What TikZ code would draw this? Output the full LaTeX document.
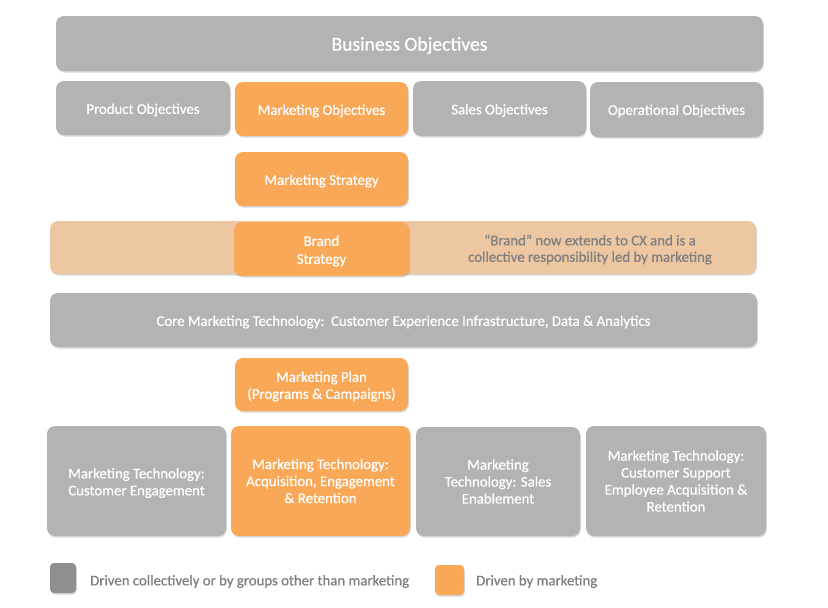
\documentclass[tikz,border=0pt]{standalone}
\usepackage{fontspec}
\setmainfont{Carlito}[FakeBold=0.6]
\usetikzlibrary{shadows}
\definecolor{boxgray}{HTML}{B3B3B3}
\definecolor{boxorange}{HTML}{F8A857}
\definecolor{bandpeach}{HTML}{EDC6A2}
\definecolor{legendgray}{HTML}{8F8F8F}
\definecolor{textgray}{HTML}{7F7F7F}
\begin{document}
\begin{tikzpicture}[x=1pt,y=-1pt,
  base/.style={rounded corners=8pt, inner sep=0pt,
     drop shadow={shadow xshift=0.8pt, shadow yshift=-1.5pt, opacity=0.25, fill=black!60}},
  graybox/.style={base, fill=boxgray},
  orangebox/.style={base, fill=boxorange},
  txt/.style={text=white, align=center, inner sep=0pt, font=\fontsize{14.8}{17}\selectfont},
  legendsq/.style={rounded corners=4pt, minimum width=26pt, minimum height=30pt, inner sep=0pt,
     drop shadow={shadow xshift=0.8pt, shadow yshift=-1.5pt, opacity=0.25, fill=black!60}},
  legendtxt/.style={anchor=west, text=textgray, font=\fontsize{14.8}{17}\selectfont, inner sep=0pt}
]
\useasboundingbox (0,0) rectangle (828,608);
\fill[white] (0,0) rectangle (828,608);

% top
\node[graybox, minimum width=707pt, minimum height=55pt] (bo) at (409.5,43.5) {};
\node[txt, font=\fontsize{19.6}{22}\selectfont] (bo-t) at ([yshift=-2pt]bo.center) {Business Objectives};

\node[graybox, minimum width=174pt, minimum height=54pt] (po) at (143,108) {};
\node[txt] (po-t) at ([yshift=-2pt]po.center) {Product Objectives};
\node[orangebox, minimum width=173pt, minimum height=54pt] (mo) at (321.5,109) {};
\node[txt] (mo-t) at ([yshift=-2pt]mo.center) {Marketing Objectives};
\node[graybox, minimum width=173pt, minimum height=55pt] (so) at (499.5,108.5) {};
\node[txt] (so-t) at ([yshift=-2pt]so.center) {Sales Objectives};
\node[graybox, minimum width=173pt, minimum height=55pt] (oo) at (676.5,109.5) {};
\node[txt] (oo-t) at ([yshift=-1.5pt]oo.center) {Operational Objectives};

\node[orangebox, minimum width=173pt, minimum height=54pt] (ms) at (321.5,179) {};
\node[txt] (ms-t) at ([yshift=-2pt]ms.center) {Marketing Strategy};

% brand band
\node[base, fill=bandpeach, minimum width=706pt, minimum height=53pt] (band) at (403,247.5) {};
\node[orangebox, minimum width=175pt, minimum height=54pt] (bs) at (321.5,249) {};
\node[txt, font=\fontsize{14.8}{18}\selectfont] (bs-t) at ([yshift=-2pt]bs.center) {Brand\\Strategy};
\node[txt, text=textgray, font=\fontsize{14.8}{16.5}\selectfont] (bt) at (590,249.5) {“Brand” now extends to CX and is a\\collective responsibility led by marketing};

\node[graybox, minimum width=707pt, minimum height=54pt] (core) at (403.5,320) {};
\node[txt] (core-t) at ([yshift=-2pt]core.center) {Core Marketing Technology:\ \ Customer Experience Infrastructure, Data \& Analytics};

\node[orangebox, minimum width=173pt, minimum height=53pt] (mp) at (321.5,384.5) {};
\node[txt] (mp-t) at ([yshift=-2pt]mp.center) {Marketing Plan\\(Programs \& Campaigns)};

% bottom row
\node[graybox, minimum width=179pt, minimum height=110pt] (t1) at (136.5,481) {};
\node[txt] (t1-t) at ([yshift=-2pt]t1.center) {Marketing Technology:\\Customer Engagement};
\node[orangebox, minimum width=179pt, minimum height=110pt] (t2) at (320.5,481) {};
\node[txt] (t2-t) at (t2.center) {Marketing Technology:\\Acquisition, Engagement\\\& Retention};
\node[graybox, minimum width=164pt, minimum height=109pt] (t3) at (498,481.5) {};
\node[txt] (t3-t) at (t3.center) {Marketing\\Technology: Sales\\Enablement};
\node[graybox, minimum width=180pt, minimum height=110pt] (t4) at (676,481) {};
\node[txt] (t4-t) at (t4.center) {Marketing Technology:\\Customer Support\\Employee Acquisition \&\\Retention};

% legend
\node[legendsq, fill=legendgray] (lg) at (63,578) {};
\node[legendtxt] (lgt) at (90,581.5) {Driven collectively or by groups other than marketing};
\node[legendsq, fill=boxorange, minimum width=29pt] (lo) at (449.5,580) {};
\node[legendtxt] (lot) at (476,581.5) {Driven by marketing};
\end{tikzpicture}
\end{document}
